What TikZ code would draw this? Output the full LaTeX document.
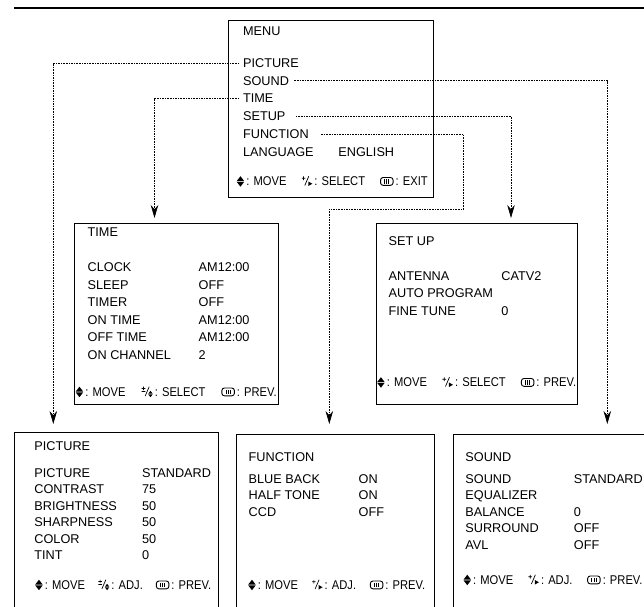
\documentclass[tikz,border=0pt]{standalone}
\usepackage{fontspec}
\setmainfont{Liberation Sans}
\newfontfamily\footfont[FakeStretch=0.88]{Liberation Sans}
\usetikzlibrary{arrows.meta}

% simboli della riga in basso
\newcommand{\updn}{\tikz[baseline=0pt,x=1pt,y=1pt]{\fill (0,4.4)--(7.5,4.4)--(3.75,9.3)--cycle; \fill (0,3.7)--(7.5,3.7)--(3.75,-1.2)--cycle;}}
\newcommand{\selp}{\tikz[baseline=0pt,x=1pt,y=1pt,line width=0.7pt]{\draw (0,7.3)--(3.6,7.3) (1.8,5.5)--(1.8,9.1) (3,0)--(7,9.3); \fill (6.5,-0.5)--(6.5,4)--(10.5,1.75)--cycle;}}
\newcommand{\selpm}{\tikz[baseline=0pt,x=1pt,y=1pt,line width=0.7pt]{\draw (0,7.6)--(3.6,7.6) (1.8,5.8)--(1.8,9.4) (0,4.6)--(3.6,4.6) (3.5,0)--(7.5,9.3); \fill (6.5,2.3)--(11,2.3)--(8.75,5.2)--cycle; \fill (6.5,1.7)--(11,1.7)--(8.75,-1.2)--cycle;}}
\newcommand{\menubtn}{\tikz[baseline=0pt,x=1pt,y=1pt]{\draw[line width=0.9pt,rounded corners=2.5pt] (0,0.2) rectangle (12.5,8); \draw[line width=0.8pt] (4.2,2)--(4.2,6.2) (6.25,2)--(6.25,6.2) (8.3,2)--(8.3,6.2);}}

\begin{document}
\begin{tikzpicture}[thick, x=1pt, y=-1pt,
  >={Stealth[length=13pt,width=7.5pt]},
  txt/.style={anchor=base west, inner sep=0pt, font=\fontsize{12.7}{15}\selectfont},
  foot/.style={anchor=base west, inner sep=0pt, font=\footfont\fontsize{12.7}{15}\selectfont},
  panel/.style={draw, rectangle, anchor=north west, inner sep=0pt},
  link/.style={->, line width=0.65pt, dash pattern=on 1.6pt off 1pt}]

\useasboundingbox (0,0) rectangle (644,606);
\clip (0,0) rectangle (644,606);

% Riga superiore
\draw[line width=2pt] (14,8) -- (644,8);

% Menu principale
\node[panel, minimum width=205pt, minimum height=177pt] (menu) at (228,20) {};
\node[txt] (mTitle) at (242.7,35.5) {MENU};
\node[txt] (mPicture) at (242.7,67.2) {PICTURE};
\node[txt] (mSound) at (242.7,85) {SOUND};
\node[txt] (mTime) at (242.7,102.7) {TIME};
\node[txt] (mSetup) at (242.7,120.7) {SETUP};
\node[txt] (mFunction) at (242.7,138.3) {FUNCTION};
\node[txt] (mLanguage) at (242.7,156) {LANGUAGE};
\node[txt] (mEnglish) at (338,156) {ENGLISH};
\node[foot] (fMenu) at (236.5,185.5) {\hbox to 191pt{\updn\,: MOVE\hfill\selp\,: SELECT\hfill\menubtn\,: EXIT}};

% Menu TIME
\node[panel, minimum width=204pt, minimum height=181.3pt] (time) at (74,222.7) {};
\node[txt] (tTitle) at (87.3,236.5) {TIME};
\node[txt] (tClock) at (87.3,271.5) {CLOCK};
\node[txt] (tClockV) at (198.3,271.5) {AM12:00};
\node[txt] (tSleep) at (87.3,289) {SLEEP};
\node[txt] (tSleepV) at (198.3,289) {OFF};
\node[txt] (tTimer) at (87.3,306.5) {TIMER};
\node[txt] (tTimerV) at (198.3,306.5) {OFF};
\node[txt] (tOn) at (87.3,324) {ON TIME};
\node[txt] (tOnV) at (198.3,324) {AM12:00};
\node[txt] (tOff) at (87.3,341.5) {OFF TIME};
\node[txt] (tOffV) at (198.3,341.5) {AM12:00};
\node[txt] (tChan) at (87.3,359) {ON CHANNEL};
\node[txt] (tChanV) at (198.3,359) {2};
\node[foot] (fTime) at (75.5,396) {\hbox to 201pt{\updn\,: MOVE\hfill\selpm\,: SELECT\hfill\menubtn\,: PREV.}};

% Menu SET UP
\node[panel, minimum width=201pt, minimum height=181.3pt] (setup) at (376.3,222.7) {};
\node[txt] (sTitle) at (388.3,245) {SET UP};
\node[txt] (sAnt) at (388.3,280) {ANTENNA};
\node[txt] (sAntV) at (501,280) {CATV2};
\node[txt] (sAuto) at (388.3,297.5) {AUTO PROGRAM};
\node[txt] (sFine) at (388.3,315) {FINE TUNE};
\node[txt] (sFineV) at (501,315) {0};
\node[foot] (fSetup) at (377,386.5) {\hbox to 199pt{\updn\,: MOVE\hfill\selp\,: SELECT\hfill\menubtn\,: PREV.}};

% Menu PICTURE
\node[panel, minimum width=204pt, minimum height=200pt] (picture) at (14,432) {};
\node[txt] (pTitle) at (34,450) {PICTURE};
\node[txt] (pPic) at (34,477) {PICTURE};
\node[txt] (pPicV) at (141.7,477) {STANDARD};
\node[txt] (pCon) at (34,493.5) {CONTRAST};
\node[txt] (pConV) at (141.7,493.5) {75};
\node[txt] (pBri) at (34,510) {BRIGHTNESS};
\node[txt] (pBriV) at (141.7,510) {50};
\node[txt] (pSha) at (34,526.5) {SHARPNESS};
\node[txt] (pShaV) at (141.7,526.5) {50};
\node[txt] (pCol) at (34,543) {COLOR};
\node[txt] (pColV) at (141.7,543) {50};
\node[txt] (pTint) at (34,559.5) {TINT};
\node[txt] (pTintV) at (141.7,559.5) {0};
\node[foot] (fPicture) at (35,589) {\hbox to 176pt{\updn\,: MOVE\hfill\selpm\,: ADJ.\hfill\menubtn\,: PREV.}};

% Menu FUNCTION
\node[panel, minimum width=198pt, minimum height=200pt] (function) at (236,434) {};
\node[txt] (uTitle) at (248.3,461) {FUNCTION};
\node[txt] (uBlue) at (248.3,483) {BLUE BACK};
\node[txt] (uBlueV) at (358.3,483) {ON};
\node[txt] (uHalf) at (248.3,499.5) {HALF TONE};
\node[txt] (uHalfV) at (358.3,499.5) {ON};
\node[txt] (uCcd) at (248.3,516) {CCD};
\node[txt] (uCcdV) at (358.3,516) {OFF};
\node[foot] (fFunction) at (248,589) {\hbox to 177pt{\updn\,: MOVE\hfill\selp\,: ADJ.\hfill\menubtn\,: PREV.}};

% Menu SOUND
\node[panel, minimum width=220pt, minimum height=200pt] (sound) at (453,434) {};
\node[txt] (dTitle) at (465,461) {SOUND};
\node[txt] (dSnd) at (465,483) {SOUND};
\node[txt] (dSndV) at (573.5,483) {STANDARD};
\node[txt] (dEq) at (465,499.5) {EQUALIZER};
\node[txt] (dBal) at (465,516) {BALANCE};
\node[txt] (dBalV) at (573.5,516) {0};
\node[txt] (dSur) at (465,532.5) {SURROUND};
\node[txt] (dSurV) at (573.5,532.5) {OFF};
\node[txt] (dAvl) at (465,549) {AVL};
\node[txt] (dAvlV) at (573.5,549) {OFF};
\node[foot] (fSound) at (463.3,584) {\hbox to 179pt{\updn\,: MOVE\hfill\selp\,: ADJ.\hfill\menubtn\,: PREV.}};

% Collegamenti
\coordinate (aPicture) at (53.3,424);
\coordinate (aTime) at (154.5,218);
\coordinate (aSound) at (607.3,424);
\coordinate (aSetup) at (511,218);
\coordinate (fBend) at (463.3,209);
\coordinate (aFunction) at (329.3,424);
\draw[link] ([xshift=-3.5pt]mPicture.west) -| (aPicture);
\draw[link] ([xshift=-3.5pt]mTime.west) -| (aTime);
\draw[link] ([xshift=5pt]mSound.east) -| (aSound);
\draw[link] ([xshift=10pt]mSetup.east) -| (aSetup);
\draw[link] ([xshift=12pt]mFunction.east) -| (fBend) -| (aFunction);

\end{tikzpicture}
\end{document}
